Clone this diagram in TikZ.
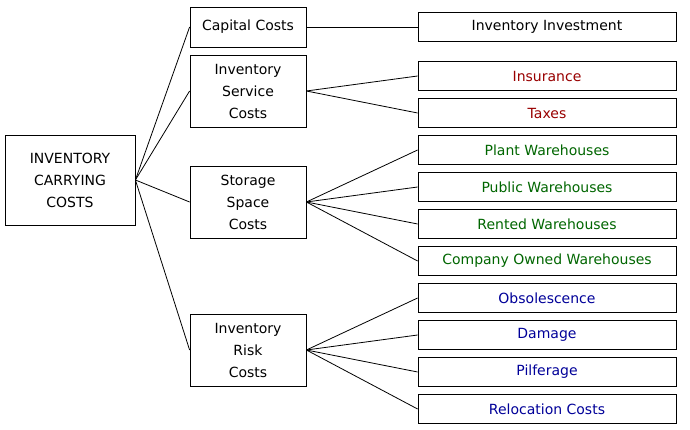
\documentclass[tikz,border=0pt]{standalone}
\usepackage{fontspec}
\setmainfont{DejaVu Sans}
\definecolor{costred}{HTML}{990000}
\definecolor{costgreen}{HTML}{006600}
\definecolor{costblue}{HTML}{000099}
\begin{document}
\begin{tikzpicture}[x=1pt,y=-1pt, line width=0.8pt,
    box/.style={draw, fill=white, align=center, inner sep=0pt, font=\fontsize{14}{22}\selectfont},
    root/.style={box, minimum width=130pt, minimum height=90pt},
    mid/.style={box, minimum width=116pt, minimum height=72pt},
    leaf/.style={box, minimum width=258pt, minimum height=29pt}]
  \useasboundingbox (0,0) rectangle (690,430);
  \node[root] (carry) at (70,180) {INVENTORY\\CARRYING\\COSTS};
  \node[mid, minimum height=40pt] (capital) at (248,27) {Capital Costs};
  \node[mid] (service) at (248,91) {Inventory\\Service\\Costs};
  \node[mid] (storage) at (248,202) {Storage\\Space\\Costs};
  \node[mid] (risk) at (248,350) {Inventory\\Risk\\Costs};
  \node[leaf] (invest) at (547,27) {Inventory Investment};
  \node[leaf, text=costred] (insur) at (547,76) {Insurance};
  \node[leaf, text=costred] (taxes) at (547,113) {Taxes};
  \node[leaf, text=costgreen] (plant) at (547,150) {Plant Warehouses};
  \node[leaf, text=costgreen] (public) at (547,187) {Public Warehouses};
  \node[leaf, text=costgreen] (rented) at (547,224) {Rented Warehouses};
  \node[leaf, text=costgreen] (company) at (547,261) {Company Owned Warehouses};
  \node[leaf, text=costblue] (obsol) at (547,298) {Obsolescence};
  \node[leaf, text=costblue] (damage) at (547,335) {Damage};
  \node[leaf, text=costblue] (pilfer) at (547,372) {Pilferage};
  \node[leaf, text=costblue] (reloc) at (547,409) {Relocation Costs};
  \foreach \m in {capital,service,storage,risk}
    \draw (carry.east) -- (\m.west);
  \draw (capital.east) -- (invest.west);
  \foreach \l in {insur,taxes} \draw (service.east) -- (\l.west);
  \foreach \l in {plant,public,rented,company} \draw (storage.east) -- (\l.west);
  \foreach \l in {obsol,damage,pilfer,reloc} \draw (risk.east) -- (\l.west);
\end{tikzpicture}
\end{document}
